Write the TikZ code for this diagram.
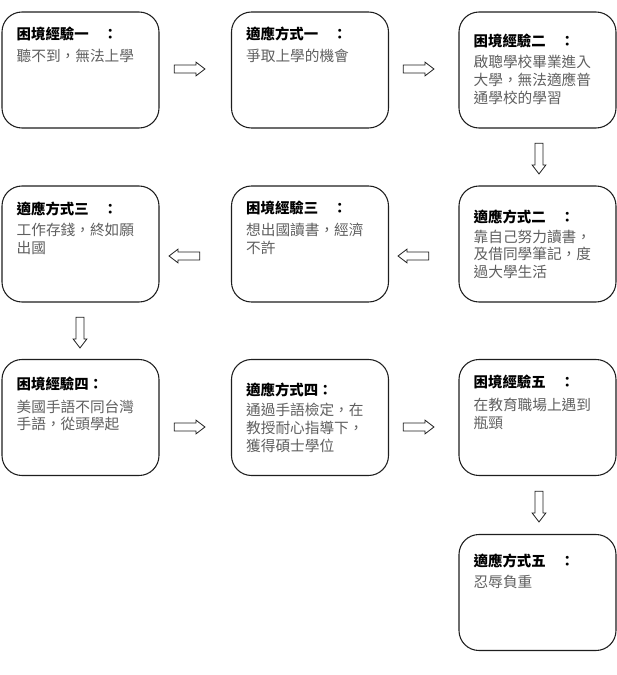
\documentclass[tikz,border=0pt]{standalone}
\usepackage{fontspec}
\setmainfont{Noto Sans CJK TC}
\usepackage{tikz}
\usetikzlibrary{positioning,shapes.arrows}
\definecolor{ink}{RGB}{30,30,30}
\definecolor{soft}{RGB}{95,95,95}
\tikzset{
  card/.style={draw=ink, rounded corners=15pt, line width=0.8pt, fill=white,
              minimum width=117.75pt, minimum height=87pt, inner sep=0pt},
  hdr/.style={anchor=north west, inner sep=0pt, text=black,
              font=\fontsize{10.8pt}{13pt}\selectfont\bfseries},
  body/.style={inner sep=0pt, text=soft, align=left,
              font=\fontsize{11pt}{13.4pt}\selectfont},
  blockarrow/.style={single arrow, draw=ink, line width=0.6pt, fill=white,
              minimum height=23pt, inner sep=2.7pt,
              single arrow head extend=2.1pt, single arrow tip angle=75},
}

\begin{document}
\begin{tikzpicture}[x=0.75pt,y=-0.75pt]
  \useasboundingbox (0,0) rectangle (617,675);

  \node[card] (e1) at (80.5,70) {};
  \node[card] (a1) at (310,70) {};
  \node[card] (e2) at (537.5,70) {};
  \node[card] (a3) at (80.5,244) {};
  \node[card] (e3) at (310,244) {};
  \node[card] (a2) at (537.5,244) {};
  \node[card] (e4) at (80.5,417.5) {};
  \node[card] (a4) at (310,417.5) {};
  \node[card] (e5) at (537.5,417.5) {};
  \node[card] (a5) at (537.5,592.5) {};

  \node[hdr] (e1h) at ([shift={(15,15)}]e1.north west) {困境經驗一　：};
  \node[body,below=6pt of e1h.south west,anchor=north west] (e1t) {聽不到，無法上學};

  \node[hdr] (a1h) at ([shift={(15,15)}]a1.north west) {適應方式一　：};
  \node[body,below=6pt of a1h.south west,anchor=north west] (a1t) {爭取上學的機會};

  \node[hdr] (e2h) at ([shift={(15,22)}]e2.north west) {困境經驗二　：};
  \node[body,below=5pt of e2h.south west,anchor=north west] (e2t) {啟聰學校畢業進入\\大學，無法適應普\\通學校的學習};

  \node[hdr] (a3h) at ([shift={(15,16)}]a3.north west) {適應方式三　：};
  \node[body,below=5pt of a3h.south west,anchor=north west] (a3t) {工作存錢，終如願\\出國};

  \node[hdr] (e3h) at ([shift={(15,15)}]e3.north west) {困境經驗三　：};
  \node[body,below=6pt of e3h.south west,anchor=north west] (e3t) {想出國讀書，經濟\\不許};

  \node[hdr] (a2h) at ([shift={(15,24)}]a2.north west) {適應方式二　：};
  \node[body,below=4pt of a2h.south west,anchor=north west] (a2t) {靠自己努力讀書，\\及借同學筆記，度\\過大學生活};

  \node[hdr] (e4h) at ([shift={(15,18)}]e4.north west) {困境經驗四：};
  \node[body,below=6pt of e4h.south west,anchor=north west] (e4t) {美國手語不同台灣\\手語，從頭學起};

  \node[hdr] (a4h) at ([shift={(15,24)}]a4.north west) {適應方式四：};
  \node[body,below=4pt of a4h.south west,anchor=north west] (a4t) {通過手語檢定，在\\教授耐心指導下，\\獲得碩士學位};

  \node[hdr] (e5h) at ([shift={(15,16)}]e5.north west) {困境經驗五　：};
  \node[body,below=6pt of e5h.south west,anchor=north west] (e5t) {在教育職場上遇到\\瓶頸};

  \node[hdr] (a5h) at ([shift={(15,20)}]a5.north west) {適應方式五　：};
  \node[body,below=5pt of a5h.south west,anchor=north west] (a5t) {忍辱負重};

  % arrows between the cards
  \node[blockarrow] (r1) at (187,69) {};
  \node[blockarrow] (r2) at (416,69) {};
  \node[blockarrow,shape border rotate=270] (d1) at (539,156) {};
  \node[blockarrow,shape border rotate=180] (l1) at (416,256) {};
  \node[blockarrow,shape border rotate=180] (l2) at (187,256) {};
  \node[blockarrow,shape border rotate=270] (d2) at (80,330) {};
  \node[blockarrow] (r3) at (187,427) {};
  \node[blockarrow] (r4) at (416,427) {};
  \node[blockarrow,shape border rotate=270] (d3) at (539,504) {};
\end{tikzpicture}
\end{document}
